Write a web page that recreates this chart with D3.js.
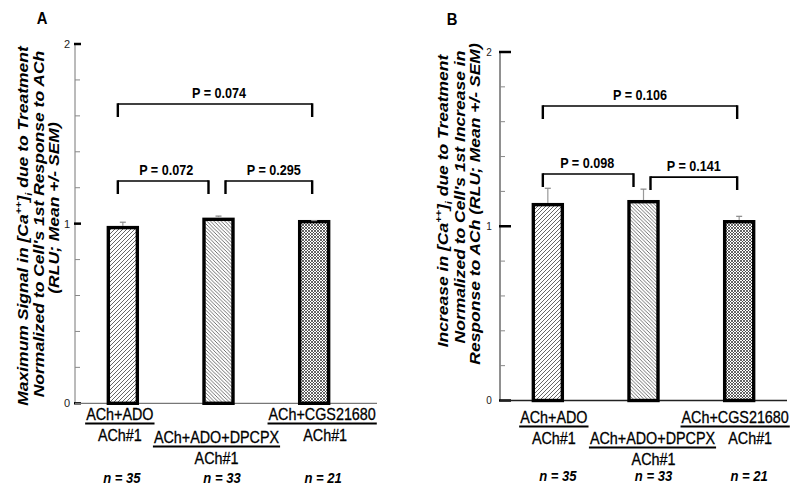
<!DOCTYPE html>
<html lang="en">
<head>
<meta charset="UTF-8">
<script src="https://d3js.org/d3.v7.min.js"></script>
<style>
  body { margin: 0; background: #fff; }
  svg { display: block; font-family: "Liberation Sans", Arial, sans-serif; }
  .ttl { font-weight: bold; font-style: italic; font-size: 17.5px; }
  .pval { font-weight: bold; font-size: 14.5px; }
  .cat { font-size: 16.5px; stroke: #000; stroke-width: 0.3px; }
  .nlab { font-weight: bold; font-style: italic; font-size: 15px; }
  .letter { font-weight: bold; font-size: 17px; }
</style>
</head>
<body>
<svg id="chart" width="800" height="493"></svg>
<script>
// categories and per-group info
const categories = ['ACh+ADO', 'ACh+ADO+DPCPX', 'ACh+CGS21680'];
const baseline = ['ACh#1', 'ACh#1', 'ACh#1'];
const nCounts = [35, 33, 21];

// panel A: maximum signal
const meanA = [0.978, 1.024, 1.011];
const semA = [0.030, 0.018, 0.006];
// panel B: increase
const meanB = [1.124, 1.141, 1.026];
const semB = [0.094, 0.072, 0.031];

const yMajor = [0, 1, 2];

// comparisons: [from, to], P text, bracket level (data units)
const pairs = [[0, 2], [0, 1], [1, 2]];
const pTextA = ['P = 0.074', 'P = 0.072', 'P = 0.295'];
const levelA = [1.666, 1.237, 1.237];
const pTextB = ['P = 0.106', 'P = 0.098', 'P = 0.141'];
const levelB = [1.69, 1.30, 1.282];

const SX = 0.87; // the original figure is squeezed horizontally
const svg = d3.select('#chart');

// hatch patterns
const defs = svg.append('defs');
function hatch(id, size, d, w) {
  const p = defs.append('pattern').attr('id', id)
    .attr('patternUnits', 'userSpaceOnUse').attr('width', size).attr('height', size);
  p.append('rect').attr('width', size).attr('height', size).attr('fill', '#fff');
  p.append('path').attr('d', d).attr('stroke', '#333').attr('stroke-width', w).attr('fill', 'none');
}
hatch('fwd', 4, 'M-1,1 l2,-2 M0,4 l4,-4 M3,5 l2,-2', 0.75);
hatch('back', 3.6, 'M-1,2.6 l2,2 M0,0 l3.6,3.6 M2.6,-1 l2,2', 0.7);
hatch('cross', 3, 'M-1,1 l2,-2 M0,3 l3,-3 M2,4 l2,-2 M-1,2 l2,2 M0,0 l3,3 M2,-1 l2,2', 0.75);
const fills = ['url(#fwd)', 'url(#back)', 'url(#cross)'];

function hText(g, x, y, str, cls) {
  return g.append('text')
    .attr('class', cls)
    .attr('transform', `translate(${x},${y}) scale(${SX},1)`)
    .attr('text-anchor', 'middle')
    .text(str);
}

function drawPanel(cfg) {
  const g = svg.append('g');
  const x = d3.scalePoint().domain(categories).range([cfg.ax, cfg.ax + 287]).padding(0.5);
  const y = d3.scaleLinear().domain([0, 2]).range([cfg.y0, cfg.y2]);
  const barW = 29;

  // panel letter
  hText(g, cfg.letter[0], cfg.letter[1], cfg.name, 'letter');

  // y axis line + ticks
  g.append('line').attr('x1', cfg.ax).attr('x2', cfg.ax)
    .attr('y1', y(0)).attr('y2', y(2)).attr('stroke', cfg.axisColor).attr('stroke-width', 1);
  g.selectAll('.minor').data(y.ticks(10).filter(t => !yMajor.includes(t)))
    .enter().append('line')
    .attr('x1', cfg.ax).attr('x2', cfg.ax + cfg.minorLen)
    .attr('y1', d => y(d)).attr('y2', d => y(d))
    .attr('stroke', '#888').attr('stroke-width', 1);
  g.selectAll('.major').data(yMajor)
    .enter().append('line')
    .attr('x1', cfg.ax - 1).attr('x2', cfg.ax + cfg.majorLen)
    .attr('y1', d => y(d)).attr('y2', d => y(d))
    .attr('stroke', '#000').attr('stroke-width', 2.5);
  g.selectAll('.tl').data(yMajor)
    .enter().append('text')
    .attr('x', cfg.tickLabelX).attr('y', d => y(d)).attr('dy', '0.36em')
    .attr('text-anchor', 'middle')
    .attr('font-size', cfg.tickFont).attr('fill', '#222')
    .text(d => d);

  // x axis line
  g.append('line').attr('x1', cfg.ax).attr('x2', cfg.xEnd)
    .attr('y1', y(0)).attr('y2', y(0)).attr('stroke', cfg.axisColor).attr('stroke-width', 1.3);

  // bars
  g.selectAll('.bar').data(cfg.mean)
    .enter().append('rect')
    .attr('x', (d, i) => x(categories[i]) - barW / 2)
    .attr('width', barW)
    .attr('y', d => y(d))
    .attr('height', d => y(0) - y(d))
    .attr('fill', (d, i) => fills[i])
    .attr('stroke', '#000').attr('stroke-width', 3.4);

  // error bars (upper only)
  cfg.mean.forEach((m, i) => {
    const cx = x(categories[i]);
    g.append('line').attr('x1', cx).attr('x2', cx)
      .attr('y1', y(m) - 1.7).attr('y2', y(m + cfg.sem[i]))
      .attr('stroke', '#999').attr('stroke-width', 1.2);
    g.append('line').attr('x1', cx - 3).attr('x2', cx + 3)
      .attr('y1', y(m + cfg.sem[i])).attr('y2', y(m + cfg.sem[i]))
      .attr('stroke', '#888').attr('stroke-width', 1.2);
  });

  // significance brackets
  pairs.forEach(([a, b], k) => {
    const lx = x(categories[a]) + (a === 1 ? 7 : -5);
    const rx = x(categories[b]) + (b === 1 ? -10 : -2);
    const by = y(cfg.level[k]);
    g.append('path')
      .attr('d', `M${lx},${by} H${rx}`)
      .attr('fill', 'none').attr('stroke', '#000').attr('stroke-width', 1.6);
    g.append('path')
      .attr('d', `M${lx},${by - 0.8} V${by + 13} M${rx},${by - 0.8} V${by + 13}`)
      .attr('fill', 'none').attr('stroke', '#000').attr('stroke-width', 2.4);
    hText(g, (lx + rx) / 2 + cfg.pShift[k], by - 6, cfg.pText[k], 'pval');
  });

  // category labels (fraction style: treatment over ACh#1)
  categories.forEach((c, i) => {
    const cx = x(c);
    const ny = i === 1 ? cfg.numY + cfg.midDrop : cfg.numY;
    const t = hText(g, cx + cfg.numDx[i], ny, c, 'cat');
    const w = t.node().getComputedTextLength() * SX;
    g.append('line')
      .attr('x1', cx + cfg.numDx[i] - w / 2 - 1).attr('x2', cx + cfg.numDx[i] + w / 2 + 1)
      .attr('y1', ny + 3.5).attr('y2', ny + 3.5)
      .attr('stroke', '#000').attr('stroke-width', 2);
    hText(g, cx + cfg.denDx[i], ny + 21, baseline[i], 'cat');
    hText(g, cx + cfg.nDx[i], cfg.nY, `n = ${nCounts[i]}`, 'nlab');
  });

  // rotated y-axis title
  cfg.title.forEach((parts, li) => {
    const t = g.append('text')
      .attr('class', 'ttl')
      .attr('transform', `translate(${cfg.titleX[li]},${cfg.titleY[li]}) rotate(-90) scale(1,${SX})`)
      .attr('text-anchor', 'middle');
    parts.forEach(p => {
      const s = t.append('tspan').text(p[0]);
      if (p[1] === 'sup') s.attr('font-size', '11px').attr('baseline-shift', '7px');
      if (p[1] === 'sub') s.attr('font-size', '11px').attr('baseline-shift', '-4px');
    });
  });
}

drawPanel({
  name: 'A', letter: [42, 24],
  ax: 75, y0: 403.3, y2: 44, xEnd: 377,
  axisColor: '#777', minorLen: 5, majorLen: 6, tickLabelX: 67, tickFont: 11,
  mean: meanA, sem: semA, pText: pTextA, level: levelA, pShift: [4, 3, 5],
  numY: 420, midDrop: 23, numDx: [-3, -2, 8], denDx: [-3, -2, 11], nDx: [-1, 3.5, 9], nY: 483,
  titleX: [28, 44, 59], titleY: [226, 224, 208],
  title: [
    [['Maximum Signal in [Ca'], ['++', 'sup'], [']'], ['i', 'sub'], [' due to Treatment']],
    [["Normalized to Cell's 1st Response to ACh"]],
    [['(RLU; Mean +/- SEM)']]
  ]
});

drawPanel({
  name: 'B', letter: [452, 25],
  ax: 500, y0: 400.5, y2: 52, xEnd: 787,
  axisColor: '#222', minorLen: 5, majorLen: 11, tickLabelX: 489, tickFont: 10,
  mean: meanB, sem: semB, pText: pTextB, level: levelB, pShift: [0, -1, 0],
  numY: 423, midDrop: 21, numDx: [6, 9, -4], denDx: [6, 10, 11], nDx: [10, 10, 10], nY: 481,
  titleX: [448, 465, 480], titleY: [201, 197, 204],
  title: [
    [['Increase in [Ca'], ['++', 'sup'], [']'], ['i', 'sub'], [' due to Treatment']],
    [["Normalized to Cell's 1st Increase in"]],
    [['Response to ACh (RLU; Mean +/- SEM)']]
  ]
});
</script>
</body>
</html>
